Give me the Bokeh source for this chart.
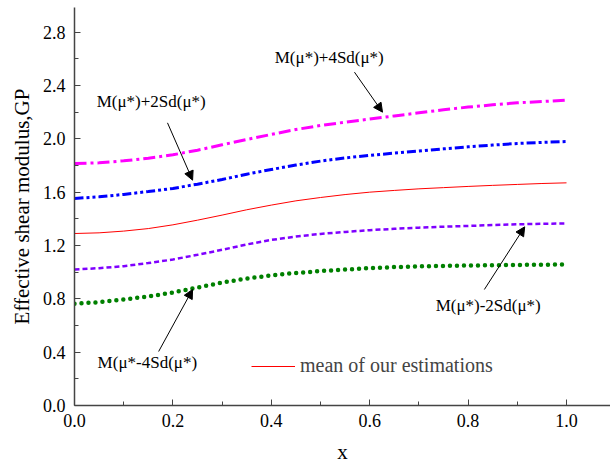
from bokeh.plotting import figure
from bokeh.models import (Range1d, FixedTicker, PrintfTickFormatter, Label, Arrow,
                          NormalHead, Legend, LegendItem)
from bokeh.embed import file_html
from bokeh.resources import INLINE

# ---- data ----
x = [0.0, 0.05, 0.1, 0.15, 0.2, 0.25, 0.3, 0.35, 0.4, 0.45, 0.5,
     0.55, 0.6, 0.65, 0.7, 0.75, 0.8, 0.85, 0.9, 0.95, 1.0]
plus4sd = [1.815, 1.82, 1.835, 1.855, 1.88, 1.915, 1.955, 1.995, 2.033, 2.07, 2.10,
           2.125, 2.148, 2.172, 2.195, 2.218, 2.238, 2.255, 2.27, 2.28, 2.29]
plus2sd = [1.553, 1.565, 1.583, 1.605, 1.628, 1.66, 1.695, 1.735, 1.77, 1.803, 1.833,
           1.857, 1.876, 1.893, 1.908, 1.925, 1.94, 1.953, 1.965, 1.973, 1.98]
mean = [1.29, 1.295, 1.308, 1.327, 1.355, 1.39, 1.428, 1.468, 1.503, 1.535, 1.56,
        1.582, 1.60, 1.613, 1.625, 1.634, 1.643, 1.651, 1.658, 1.665, 1.67]
minus2sd = [1.02, 1.03, 1.045, 1.068, 1.095, 1.13, 1.168, 1.208, 1.242, 1.267, 1.287,
            1.302, 1.315, 1.325, 1.334, 1.341, 1.347, 1.353, 1.359, 1.363, 1.365]
minus4sd = [0.763, 0.775, 0.795, 0.818, 0.847, 0.885, 0.922, 0.952, 0.976, 0.994, 1.008,
            1.02, 1.03, 1.038, 1.043, 1.047, 1.05, 1.052, 1.054, 1.056, 1.058]

x_major_ticks = [0.0, 0.2, 0.4, 0.6, 0.8, 1.0]
x_minor_ticks = [0.1, 0.3, 0.5, 0.7, 0.9]
y_major_ticks = [0.0, 0.4, 0.8, 1.2, 1.6, 2.0, 2.4, 2.8]
y_minor_ticks = [0.2, 0.6, 1.0, 1.4, 1.8, 2.2, 2.6]

FONT = "Liberation Serif"

p = figure(output_backend="svg", toolbar_location=None,
           frame_width=536, frame_height=398,
           min_border_left=74, min_border_right=0, min_border_top=7, min_border_bottom=10,
           x_range=Range1d(0, 1.0894), y_range=Range1d(0, 2.985))
p.outline_line_color = None
p.xgrid.visible = False
p.ygrid.visible = False
p.background_fill_color = "white"
p.border_fill_color = "white"

for ax in (p.xaxis[0], p.yaxis[0]):
    ax.axis_line_color = "#444444"
    ax.axis_line_width = 1.5
    ax.major_tick_line_color = "#444444"
    ax.minor_tick_line_color = "#444444"
    ax.major_tick_in = 6
    ax.major_tick_out = 0
    ax.minor_tick_in = 4
    ax.minor_tick_out = 0
    ax.major_label_text_font = FONT
    ax.major_label_text_font_size = "18px"
    ax.major_label_text_color = "black"
    ax.axis_label_text_font = FONT
    ax.axis_label_text_font_style = "normal"
    ax.axis_label_text_font_size = "21px"
    ax.axis_label_text_color = "black"
    ax.formatter = PrintfTickFormatter(format="%.1f")

p.xaxis.ticker = FixedTicker(ticks=x_major_ticks, minor_ticks=x_minor_ticks)
p.yaxis.ticker = FixedTicker(ticks=y_major_ticks, minor_ticks=y_minor_ticks)
p.xaxis.axis_label = "x"
p.yaxis.axis_label = "Effective shear modulus,GP"
p.xaxis.major_label_standoff = 8
p.yaxis.major_label_standoff = 9
p.xaxis.axis_label_standoff = 10
p.yaxis.axis_label_standoff = 6

p.line(x, plus4sd, line_color="#FF00FF", line_width=3, line_dash="12 4 3 4")
p.line(x, plus2sd, line_color="#0000FF", line_width=3, line_dash="9 3 3 3 3 3")
r_mean = p.line(x, mean, line_color="#FF0000", line_width=1)
p.line(x, minus2sd, line_color="#7F00FF", line_width=2.5, line_dash="5 3")
p.line(x, minus4sd, line_color="#008000", line_width=4.5, line_dash="0 7", line_cap="round")

legend = Legend(items=[LegendItem(label="mean of our estimations", renderers=[r_mean])],
                location=(177, 28), border_line_color=None, background_fill_alpha=0,
                padding=0, margin=0, glyph_width=44, label_standoff=5,
                label_text_font=FONT, label_text_font_size="20px")
p.add_layout(legend)

def lab(tx, lx, ly):
    p.add_layout(Label(x=lx, y=ly, text=tx, text_font=FONT, text_font_size="17px",
                       text_baseline="middle", text_align="left", text_color="black"))

lab("M(μ*)+4Sd(μ*)", 0.407, 2.61)
lab("M(μ*)+2Sd(μ*)", 0.045, 2.28)
lab("M(μ*-4Sd(μ*)", 0.047, 0.32)
lab("M(μ*)-2Sd(μ*)", 0.734, 0.75)

def arr(x0, y0, x1, y1):
    p.add_layout(Arrow(end=NormalHead(size=9, fill_color="black", line_color="black"),
                       x_start=x0, y_start=y0, x_end=x1, y_end=y1,
                       line_color="black", line_width=1))

arr(0.569, 2.50, 0.626, 2.20)
arr(0.189, 2.12, 0.240, 1.69)
arr(0.171, 0.405, 0.240, 0.87)
arr(0.833, 0.87, 0.915, 1.34)

open("out.html", "w").write(file_html(p, INLINE))
